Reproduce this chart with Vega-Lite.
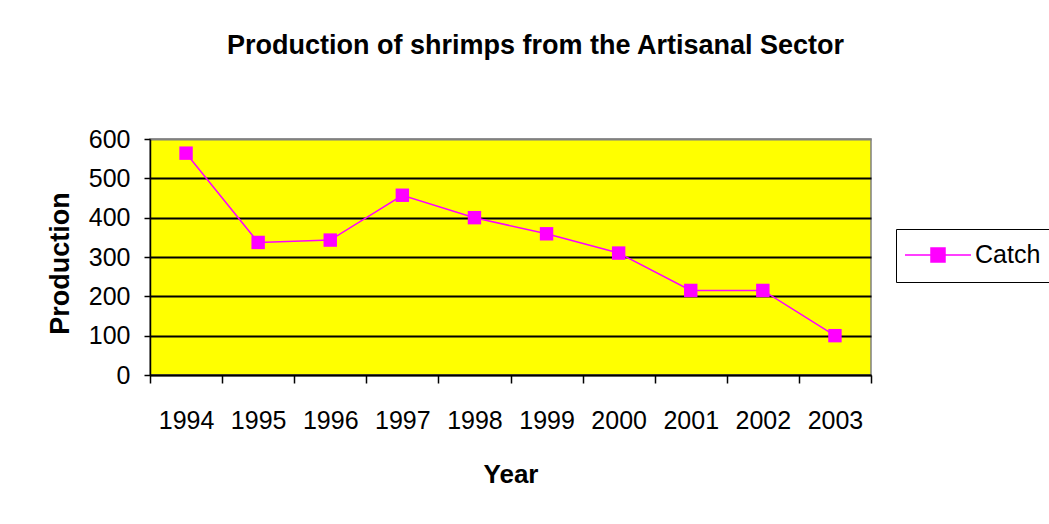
{
  "$schema": "https://vega.github.io/schema/vega-lite/v6.json",
  "width": 721,
  "height": 236,
  "autosize": {"type": "none"},
  "padding": {"left": 150, "top": 139, "right": 178, "bottom": 149},
  "background": "white",
  "title": {
    "text": "Production of shrimps from the Artisanal Sector",
    "font": "Liberation Sans",
    "fontSize": 27,
    "fontWeight": "bold",
    "color": "black",
    "anchor": "middle",
    "dx": 25,
    "offset": 67
  },
  "data": {
    "values": [
      {"year": "1994", "catch": 564, "series": "Catch"},
      {"year": "1995", "catch": 337, "series": "Catch"},
      {"year": "1996", "catch": 343, "series": "Catch"},
      {"year": "1997", "catch": 457, "series": "Catch"},
      {"year": "1998", "catch": 400, "series": "Catch"},
      {"year": "1999", "catch": 359, "series": "Catch"},
      {"year": "2000", "catch": 310, "series": "Catch"},
      {"year": "2001", "catch": 215, "series": "Catch"},
      {"year": "2002", "catch": 215, "series": "Catch"},
      {"year": "2003", "catch": 100, "series": "Catch"}
    ]
  },
  "mark": {
    "type": "line",
    "strokeWidth": 1.5,
    "point": {"shape": "square", "size": 180, "filled": true, "opacity": 1}
  },
  "encoding": {
    "x": {
      "field": "year",
      "type": "ordinal",
      "scale": {"type": "band", "paddingInner": 0, "paddingOuter": 0},
      "axis": {
        "title": "Year",
        "titleFont": "Liberation Sans",
        "titleFontSize": 26,
        "titleFontWeight": "bold",
        "titleColor": "black",
        "titlePadding": 28,
        "labelAngle": 0,
        "labelFont": "Liberation Sans",
        "labelFontSize": 25,
        "labelColor": "black",
        "labelPadding": 25,
        "tickBand": "extent",
        "tickSize": 8,
        "tickColor": "black",
        "tickWidth": 1.5,
        "domainColor": "black",
        "domainWidth": 1.5,
        "grid": false
      }
    },
    "y": {
      "field": "catch",
      "type": "quantitative",
      "scale": {"domain": [0, 600], "nice": false, "zero": true},
      "axis": {
        "title": "Production",
        "titleFont": "Liberation Sans",
        "titleFontSize": 27,
        "titleFontWeight": "bold",
        "titleColor": "black",
        "titlePadding": 14,
        "titleY": 124,
        "values": [0, 100, 200, 300, 400, 500, 600],
        "labelFont": "Liberation Sans",
        "labelFontSize": 25,
        "labelColor": "black",
        "labelPadding": 14,
        "tickSize": 6,
        "tickColor": "black",
        "tickWidth": 1.5,
        "domainColor": "black",
        "domainWidth": 1.5,
        "grid": true,
        "gridColor": {"condition": {"test": "datum.value === 600", "value": "#808080"}, "value": "black"},
        "gridWidth": 1.8,
        "gridOpacity": 1
      }
    },
    "color": {
      "field": "series",
      "type": "nominal",
      "scale": {"range": ["#FF00FF"]},
      "legend": {
        "title": null,
        "orient": "none",
        "legendX": 746,
        "legendY": 90,
        "symbolType": "M-3.3,0H3.3M-0.7,-0.7H0.7V0.7H-0.7Z",
        "symbolSize": 400,
        "symbolOffset": 16,
        "symbolStrokeWidth": 1.5,
        "symbolFillColor": "#FF00FF",
        "symbolStrokeColor": "#FF00FF",
        "strokeColor": "black",
        "padding": 13.5,
        "labelFont": "Liberation Sans",
        "labelFontSize": 25,
        "labelColor": "black",
        "labelOffset": 24.5,
        "encode": {
          "symbols": {"update": {"fill": {"value": "#FF00FF"}, "stroke": {"value": "#FF00FF"}, "opacity": {"value": 1}}}
        }
      }
    }
  },
  "config": {
    "view": {"fill": "#FFFF00", "stroke": "#808080", "strokeWidth": 1.5}
  }
}
